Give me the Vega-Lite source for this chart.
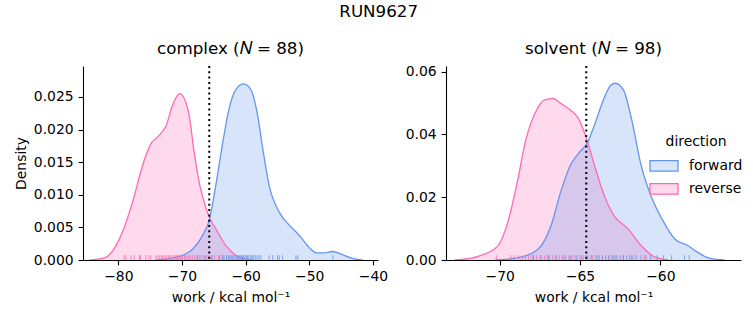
{
  "$schema": "https://vega.github.io/schema/vega-lite/v6.json",
  "background": "white",
  "padding": {"left": 14, "top": 4, "right": 13, "bottom": 5},
  "title": {"text": "RUN9627", "fontSize": 16.7, "font": "DejaVu Sans", "fontWeight": "normal", "anchor": "middle", "offset": 20, "color": "black"},
  "datasets": {
    "kde": [
      {"panel": "complex", "direction": "reverse", "x": -84.5, "density": 0},
      {"panel": "complex", "direction": "reverse", "x": -83.5, "density": 0.0001},
      {"panel": "complex", "direction": "reverse", "x": -82.0, "density": 0.0004},
      {"panel": "complex", "direction": "reverse", "x": -80.9, "density": 0.0014},
      {"panel": "complex", "direction": "reverse", "x": -79.4, "density": 0.0042},
      {"panel": "complex", "direction": "reverse", "x": -77.8, "density": 0.0088},
      {"panel": "complex", "direction": "reverse", "x": -76.2, "density": 0.0145},
      {"panel": "complex", "direction": "reverse", "x": -74.9, "density": 0.0178},
      {"panel": "complex", "direction": "reverse", "x": -73.6, "density": 0.0191},
      {"panel": "complex", "direction": "reverse", "x": -72.5, "density": 0.0206},
      {"panel": "complex", "direction": "reverse", "x": -71.5, "density": 0.0237},
      {"panel": "complex", "direction": "reverse", "x": -70.4, "density": 0.0255},
      {"panel": "complex", "direction": "reverse", "x": -69.4, "density": 0.0242},
      {"panel": "complex", "direction": "reverse", "x": -68.87, "density": 0.0221},
      {"panel": "complex", "direction": "reverse", "x": -68.08, "density": 0.0165},
      {"panel": "complex", "direction": "reverse", "x": -67.3, "density": 0.0119},
      {"panel": "complex", "direction": "reverse", "x": -66.5, "density": 0.0088},
      {"panel": "complex", "direction": "reverse", "x": -65.7, "density": 0.0065},
      {"panel": "complex", "direction": "reverse", "x": -64.7, "density": 0.0048},
      {"panel": "complex", "direction": "reverse", "x": -63.1, "density": 0.0022},
      {"panel": "complex", "direction": "reverse", "x": -61.5, "density": 0.0007},
      {"panel": "complex", "direction": "reverse", "x": -60.0, "density": 0.0001},
      {"panel": "complex", "direction": "reverse", "x": -59.0, "density": 0},
      {"panel": "complex", "direction": "forward", "x": -74.0, "density": 0},
      {"panel": "complex", "direction": "forward", "x": -71.0, "density": 0.0004},
      {"panel": "complex", "direction": "forward", "x": -68.3, "density": 0.0017},
      {"panel": "complex", "direction": "forward", "x": -66.8, "density": 0.0037},
      {"panel": "complex", "direction": "forward", "x": -65.7, "density": 0.0062},
      {"panel": "complex", "direction": "forward", "x": -64.7, "density": 0.0114},
      {"panel": "complex", "direction": "forward", "x": -63.6, "density": 0.018},
      {"panel": "complex", "direction": "forward", "x": -62.6, "density": 0.0232},
      {"panel": "complex", "direction": "forward", "x": -61.5, "density": 0.0262},
      {"panel": "complex", "direction": "forward", "x": -60.3, "density": 0.027},
      {"panel": "complex", "direction": "forward", "x": -59.1, "density": 0.026},
      {"panel": "complex", "direction": "forward", "x": -58.1, "density": 0.0221},
      {"panel": "complex", "direction": "forward", "x": -57.3, "density": 0.017},
      {"panel": "complex", "direction": "forward", "x": -56.3, "density": 0.0114},
      {"panel": "complex", "direction": "forward", "x": -54.7, "density": 0.0073},
      {"panel": "complex", "direction": "forward", "x": -53.1, "density": 0.0053},
      {"panel": "complex", "direction": "forward", "x": -51.5, "density": 0.0037},
      {"panel": "complex", "direction": "forward", "x": -50.0, "density": 0.0019},
      {"panel": "complex", "direction": "forward", "x": -48.9, "density": 0.0011},
      {"panel": "complex", "direction": "forward", "x": -47.6, "density": 0.0011},
      {"panel": "complex", "direction": "forward", "x": -46.3, "density": 0.0013},
      {"panel": "complex", "direction": "forward", "x": -45.0, "density": 0.0009},
      {"panel": "complex", "direction": "forward", "x": -43.4, "density": 0.0003},
      {"panel": "complex", "direction": "forward", "x": -41.6, "density": 0},
      {"panel": "solvent", "direction": "reverse", "x": -72.8, "density": 0},
      {"panel": "solvent", "direction": "reverse", "x": -72.0, "density": 0.0004},
      {"panel": "solvent", "direction": "reverse", "x": -71.2, "density": 0.0014},
      {"panel": "solvent", "direction": "reverse", "x": -70.1, "density": 0.0046},
      {"panel": "solvent", "direction": "reverse", "x": -69.5, "density": 0.012},
      {"panel": "solvent", "direction": "reverse", "x": -68.9, "density": 0.0249},
      {"panel": "solvent", "direction": "reverse", "x": -68.4, "density": 0.0377},
      {"panel": "solvent", "direction": "reverse", "x": -67.7, "density": 0.0478},
      {"panel": "solvent", "direction": "reverse", "x": -67.2, "density": 0.051},
      {"panel": "solvent", "direction": "reverse", "x": -66.7, "density": 0.0515},
      {"panel": "solvent", "direction": "reverse", "x": -66.2, "density": 0.0499},
      {"panel": "solvent", "direction": "reverse", "x": -65.6, "density": 0.0478},
      {"panel": "solvent", "direction": "reverse", "x": -65.1, "density": 0.0451},
      {"panel": "solvent", "direction": "reverse", "x": -64.6, "density": 0.0387},
      {"panel": "solvent", "direction": "reverse", "x": -64.1, "density": 0.0302},
      {"panel": "solvent", "direction": "reverse", "x": -63.5, "density": 0.0206},
      {"panel": "solvent", "direction": "reverse", "x": -62.9, "density": 0.0142},
      {"panel": "solvent", "direction": "reverse", "x": -62.0, "density": 0.0099},
      {"panel": "solvent", "direction": "reverse", "x": -61.2, "density": 0.0046},
      {"panel": "solvent", "direction": "reverse", "x": -60.4, "density": 0.0011},
      {"panel": "solvent", "direction": "reverse", "x": -59.5, "density": 0},
      {"panel": "solvent", "direction": "forward", "x": -70.3, "density": 0},
      {"panel": "solvent", "direction": "forward", "x": -68.7, "density": 0.0009},
      {"panel": "solvent", "direction": "forward", "x": -67.6, "density": 0.0035},
      {"panel": "solvent", "direction": "forward", "x": -66.8, "density": 0.011},
      {"panel": "solvent", "direction": "forward", "x": -66.2, "density": 0.0217},
      {"panel": "solvent", "direction": "forward", "x": -65.6, "density": 0.0302},
      {"panel": "solvent", "direction": "forward", "x": -65.0, "density": 0.0345},
      {"panel": "solvent", "direction": "forward", "x": -64.5, "density": 0.0377},
      {"panel": "solvent", "direction": "forward", "x": -64.1, "density": 0.043},
      {"panel": "solvent", "direction": "forward", "x": -63.5, "density": 0.0515},
      {"panel": "solvent", "direction": "forward", "x": -63.1, "density": 0.0556},
      {"panel": "solvent", "direction": "forward", "x": -62.8, "density": 0.0563},
      {"panel": "solvent", "direction": "forward", "x": -62.3, "density": 0.0542},
      {"panel": "solvent", "direction": "forward", "x": -61.8, "density": 0.0451},
      {"panel": "solvent", "direction": "forward", "x": -61.2, "density": 0.0302},
      {"panel": "solvent", "direction": "forward", "x": -60.6, "density": 0.0206},
      {"panel": "solvent", "direction": "forward", "x": -59.9, "density": 0.0131},
      {"panel": "solvent", "direction": "forward", "x": -59.1, "density": 0.0067},
      {"panel": "solvent", "direction": "forward", "x": -58.3, "density": 0.0046},
      {"panel": "solvent", "direction": "forward", "x": -57.7, "density": 0.0025},
      {"panel": "solvent", "direction": "forward", "x": -56.9, "density": 0.0005},
      {"panel": "solvent", "direction": "forward", "x": -56.0, "density": 0}
    ],
    "rug": [
      {"panel": "complex", "direction": "reverse", "x": -79.1}, {"panel": "complex", "direction": "reverse", "x": -78.8},
      {"panel": "complex", "direction": "reverse", "x": -78.0}, {"panel": "complex", "direction": "reverse", "x": -77.5},
      {"panel": "complex", "direction": "reverse", "x": -76.7}, {"panel": "complex", "direction": "reverse", "x": -76.5},
      {"panel": "complex", "direction": "reverse", "x": -75.7}, {"panel": "complex", "direction": "reverse", "x": -75.2},
      {"panel": "complex", "direction": "reverse", "x": -74.9}, {"panel": "complex", "direction": "reverse", "x": -74.1},
      {"panel": "complex", "direction": "reverse", "x": -73.8}, {"panel": "complex", "direction": "reverse", "x": -73.5},
      {"panel": "complex", "direction": "reverse", "x": -73.2}, {"panel": "complex", "direction": "reverse", "x": -73.0},
      {"panel": "complex", "direction": "reverse", "x": -72.7}, {"panel": "complex", "direction": "reverse", "x": -72.4},
      {"panel": "complex", "direction": "reverse", "x": -72.1}, {"panel": "complex", "direction": "reverse", "x": -71.9},
      {"panel": "complex", "direction": "reverse", "x": -71.6}, {"panel": "complex", "direction": "reverse", "x": -71.3},
      {"panel": "complex", "direction": "reverse", "x": -71.1}, {"panel": "complex", "direction": "reverse", "x": -70.9},
      {"panel": "complex", "direction": "reverse", "x": -70.7}, {"panel": "complex", "direction": "reverse", "x": -70.5},
      {"panel": "complex", "direction": "reverse", "x": -70.3}, {"panel": "complex", "direction": "reverse", "x": -70.1},
      {"panel": "complex", "direction": "reverse", "x": -69.9}, {"panel": "complex", "direction": "reverse", "x": -69.6},
      {"panel": "complex", "direction": "reverse", "x": -69.4}, {"panel": "complex", "direction": "reverse", "x": -69.1},
      {"panel": "complex", "direction": "reverse", "x": -68.9}, {"panel": "complex", "direction": "reverse", "x": -68.6},
      {"panel": "complex", "direction": "reverse", "x": -68.3}, {"panel": "complex", "direction": "reverse", "x": -68.0},
      {"panel": "complex", "direction": "reverse", "x": -67.6}, {"panel": "complex", "direction": "reverse", "x": -67.3},
      {"panel": "complex", "direction": "reverse", "x": -67.0}, {"panel": "complex", "direction": "reverse", "x": -66.6},
      {"panel": "complex", "direction": "reverse", "x": -66.2}, {"panel": "complex", "direction": "reverse", "x": -65.9},
      {"panel": "complex", "direction": "reverse", "x": -65.4}, {"panel": "complex", "direction": "reverse", "x": -64.9},
      {"panel": "complex", "direction": "reverse", "x": -64.3}, {"panel": "complex", "direction": "reverse", "x": -63.6},
      {"panel": "complex", "direction": "forward", "x": -67.6}, {"panel": "complex", "direction": "forward", "x": -66.4},
      {"panel": "complex", "direction": "forward", "x": -65.3}, {"panel": "complex", "direction": "forward", "x": -64.1},
      {"panel": "complex", "direction": "forward", "x": -63.7}, {"panel": "complex", "direction": "forward", "x": -63.4},
      {"panel": "complex", "direction": "forward", "x": -63.0}, {"panel": "complex", "direction": "forward", "x": -62.7},
      {"panel": "complex", "direction": "forward", "x": -62.5}, {"panel": "complex", "direction": "forward", "x": -62.2},
      {"panel": "complex", "direction": "forward", "x": -62.0}, {"panel": "complex", "direction": "forward", "x": -61.8},
      {"panel": "complex", "direction": "forward", "x": -61.5}, {"panel": "complex", "direction": "forward", "x": -61.3},
      {"panel": "complex", "direction": "forward", "x": -61.1}, {"panel": "complex", "direction": "forward", "x": -60.9},
      {"panel": "complex", "direction": "forward", "x": -60.7}, {"panel": "complex", "direction": "forward", "x": -60.5},
      {"panel": "complex", "direction": "forward", "x": -60.3}, {"panel": "complex", "direction": "forward", "x": -60.1},
      {"panel": "complex", "direction": "forward", "x": -59.9}, {"panel": "complex", "direction": "forward", "x": -59.7},
      {"panel": "complex", "direction": "forward", "x": -59.5}, {"panel": "complex", "direction": "forward", "x": -59.2},
      {"panel": "complex", "direction": "forward", "x": -59.0}, {"panel": "complex", "direction": "forward", "x": -58.8},
      {"panel": "complex", "direction": "forward", "x": -58.5}, {"panel": "complex", "direction": "forward", "x": -58.2},
      {"panel": "complex", "direction": "forward", "x": -57.9}, {"panel": "complex", "direction": "forward", "x": -57.6},
      {"panel": "complex", "direction": "forward", "x": -56.3}, {"panel": "complex", "direction": "forward", "x": -55.75},
      {"panel": "complex", "direction": "forward", "x": -55.0}, {"panel": "complex", "direction": "forward", "x": -54.7},
      {"panel": "complex", "direction": "forward", "x": -54.2}, {"panel": "complex", "direction": "forward", "x": -52.1},
      {"panel": "complex", "direction": "forward", "x": -51.8}, {"panel": "complex", "direction": "forward", "x": -46.3},
      {"panel": "solvent", "direction": "reverse", "x": -70.2}, {"panel": "solvent", "direction": "reverse", "x": -69.3},
      {"panel": "solvent", "direction": "reverse", "x": -69.1}, {"panel": "solvent", "direction": "reverse", "x": -68.8},
      {"panel": "solvent", "direction": "reverse", "x": -68.6}, {"panel": "solvent", "direction": "reverse", "x": -68.4},
      {"panel": "solvent", "direction": "reverse", "x": -68.2}, {"panel": "solvent", "direction": "reverse", "x": -68.0},
      {"panel": "solvent", "direction": "reverse", "x": -67.9}, {"panel": "solvent", "direction": "reverse", "x": -67.7},
      {"panel": "solvent", "direction": "reverse", "x": -67.5}, {"panel": "solvent", "direction": "reverse", "x": -67.4},
      {"panel": "solvent", "direction": "reverse", "x": -67.2}, {"panel": "solvent", "direction": "reverse", "x": -67.0},
      {"panel": "solvent", "direction": "reverse", "x": -66.9}, {"panel": "solvent", "direction": "reverse", "x": -66.7},
      {"panel": "solvent", "direction": "reverse", "x": -66.5}, {"panel": "solvent", "direction": "reverse", "x": -66.3},
      {"panel": "solvent", "direction": "reverse", "x": -66.1}, {"panel": "solvent", "direction": "reverse", "x": -65.9},
      {"panel": "solvent", "direction": "reverse", "x": -65.7}, {"panel": "solvent", "direction": "reverse", "x": -65.5},
      {"panel": "solvent", "direction": "reverse", "x": -65.3}, {"panel": "solvent", "direction": "reverse", "x": -65.0},
      {"panel": "solvent", "direction": "reverse", "x": -64.8}, {"panel": "solvent", "direction": "reverse", "x": -64.5},
      {"panel": "solvent", "direction": "reverse", "x": -64.2}, {"panel": "solvent", "direction": "reverse", "x": -63.9},
      {"panel": "solvent", "direction": "reverse", "x": -63.6}, {"panel": "solvent", "direction": "reverse", "x": -63.2},
      {"panel": "solvent", "direction": "reverse", "x": -62.8}, {"panel": "solvent", "direction": "reverse", "x": -62.3},
      {"panel": "solvent", "direction": "reverse", "x": -61.8}, {"panel": "solvent", "direction": "reverse", "x": -61.0},
      {"panel": "solvent", "direction": "forward", "x": -67.9}, {"panel": "solvent", "direction": "forward", "x": -67.0},
      {"panel": "solvent", "direction": "forward", "x": -66.5}, {"panel": "solvent", "direction": "forward", "x": -66.0},
      {"panel": "solvent", "direction": "forward", "x": -65.6}, {"panel": "solvent", "direction": "forward", "x": -65.2},
      {"panel": "solvent", "direction": "forward", "x": -64.9}, {"panel": "solvent", "direction": "forward", "x": -64.6},
      {"panel": "solvent", "direction": "forward", "x": -64.3}, {"panel": "solvent", "direction": "forward", "x": -64.0},
      {"panel": "solvent", "direction": "forward", "x": -63.8}, {"panel": "solvent", "direction": "forward", "x": -63.6},
      {"panel": "solvent", "direction": "forward", "x": -63.4}, {"panel": "solvent", "direction": "forward", "x": -63.2},
      {"panel": "solvent", "direction": "forward", "x": -63.0}, {"panel": "solvent", "direction": "forward", "x": -62.9},
      {"panel": "solvent", "direction": "forward", "x": -62.7}, {"panel": "solvent", "direction": "forward", "x": -62.5},
      {"panel": "solvent", "direction": "forward", "x": -62.3}, {"panel": "solvent", "direction": "forward", "x": -62.1},
      {"panel": "solvent", "direction": "forward", "x": -61.9}, {"panel": "solvent", "direction": "forward", "x": -61.7},
      {"panel": "solvent", "direction": "forward", "x": -61.5}, {"panel": "solvent", "direction": "forward", "x": -61.2},
      {"panel": "solvent", "direction": "forward", "x": -60.9}, {"panel": "solvent", "direction": "forward", "x": -60.6},
      {"panel": "solvent", "direction": "forward", "x": -60.2}, {"panel": "solvent", "direction": "forward", "x": -59.8},
      {"panel": "solvent", "direction": "forward", "x": -59.3}, {"panel": "solvent", "direction": "forward", "x": -58.5},
      {"panel": "solvent", "direction": "forward", "x": -58.2}
    ],
    "ref": [
      {"panel": "complex", "x": -65.72},
      {"panel": "solvent", "x": -64.61}
    ]
  },
  "hconcat": [
    {
      "width": 295,
      "height": 194,
      "title": {"text": "complex (𝑁 = 88)", "fontSize": 16.7, "fontWeight": "normal", "color": "black", "offset": 7},
      "layer": [
        {
          "data": {"name": "kde"},
          "transform": [{"filter": "datum.panel === 'complex'"}],
          "mark": {"type": "area", "fillOpacity": 0.25, "clip": true, "interpolate": "monotone"},
          "encoding": {
            "x": {"field": "x", "type": "quantitative", "scale": {"domain": [-85.56, -39.2], "nice": false, "zero": false},
                  "axis": {"values": [-80, -70, -60, -50, -40], "title": "work / kcal mol⁻¹"}},
            "y": {"field": "density", "type": "quantitative", "stack": null, "scale": {"domain": [0, 0.02975], "nice": false},
                  "axis": {"values": [0, 0.005, 0.01, 0.015, 0.02, 0.025], "tickCount": 6, "format": ".3f", "title": "Density", "labelOverlap": false, "labelSeparation": 0}},
            "color": {"field": "direction", "type": "nominal", "scale": {"domain": ["forward", "reverse"], "range": ["#6495ED", "#FF69B4"]}, "legend": null}
          }
        },
        {
          "data": {"name": "kde"},
          "transform": [{"filter": "datum.panel === 'complex'"}],
          "mark": {"type": "line", "strokeWidth": 1.3, "clip": true, "interpolate": "monotone"},
          "encoding": {
            "x": {"field": "x", "type": "quantitative"},
            "y": {"field": "density", "type": "quantitative"},
            "color": {"field": "direction", "type": "nominal", "legend": null}
          }
        },
        {
          "data": {"name": "rug"},
          "transform": [{"filter": "datum.panel === 'complex'"}],
          "mark": {"type": "rule", "strokeWidth": 1, "opacity": 0.8},
          "encoding": {
            "x": {"field": "x", "type": "quantitative"},
            "y": {"datum": 0},
            "y2": {"datum": 0.000744},
            "color": {"field": "direction", "type": "nominal", "legend": null}
          }
        },
        {
          "data": {"name": "ref"},
          "transform": [{"filter": "datum.panel === 'complex'"}],
          "mark": {"type": "rule", "color": "black", "strokeWidth": 2, "strokeDash": [2, 3.3]},
          "encoding": {"x": {"field": "x", "type": "quantitative"}}
        }
      ]
    },
    {
      "width": 295,
      "height": 194,
      "title": {"text": "solvent (𝑁 = 98)", "fontSize": 16.7, "fontWeight": "normal", "color": "black", "offset": 7},
      "layer": [
        {
          "data": {"name": "kde"},
          "transform": [{"filter": "datum.panel === 'solvent'"}],
          "mark": {"type": "area", "fillOpacity": 0.25, "clip": true, "interpolate": "monotone"},
          "encoding": {
            "x": {"field": "x", "type": "quantitative", "scale": {"domain": [-73.34, -54.98], "nice": false, "zero": false},
                  "axis": {"values": [-70, -65, -60], "title": "work / kcal mol⁻¹"}},
            "y": {"field": "density", "type": "quantitative", "stack": null, "scale": {"domain": [0, 0.0618], "nice": false},
                  "axis": {"values": [0, 0.02, 0.04, 0.06], "format": ".2f", "title": null}},
            "color": {"field": "direction", "type": "nominal",
                      "legend": {"orient": "none", "legendX": 203, "legendY": 69, "title": "direction",
                                 "titleAnchor": "middle", "titleAlign": "center", "titlePadding": 2,
                                 "symbolType": "M-1,-0.38H1V0.38H-1Z", "symbolSize": 784,
                                 "rowPadding": -7.5, "labelOffset": 10, "padding": 0,
                                 "encode": {"symbols": {"update": {
                                   "fill": {"scale": "color", "field": "value"},
                                   "fillOpacity": {"value": 0.25},
                                   "stroke": {"scale": "color", "field": "value"},
                                   "strokeWidth": {"value": 1.3},
                                   "opacity": {"value": 1}}}}}}
          }
        },
        {
          "data": {"name": "kde"},
          "transform": [{"filter": "datum.panel === 'solvent'"}],
          "mark": {"type": "line", "strokeWidth": 1.3, "clip": true, "interpolate": "monotone"},
          "encoding": {
            "x": {"field": "x", "type": "quantitative"},
            "y": {"field": "density", "type": "quantitative"},
            "color": {"field": "direction", "type": "nominal"}
          }
        },
        {
          "data": {"name": "rug"},
          "transform": [{"filter": "datum.panel === 'solvent'"}],
          "mark": {"type": "rule", "strokeWidth": 1, "opacity": 0.8},
          "encoding": {
            "x": {"field": "x", "type": "quantitative"},
            "y": {"datum": 0},
            "y2": {"datum": 0.001545},
            "color": {"field": "direction", "type": "nominal"}
          }
        },
        {
          "data": {"name": "ref"},
          "transform": [{"filter": "datum.panel === 'solvent'"}],
          "mark": {"type": "rule", "color": "black", "strokeWidth": 2, "strokeDash": [2, 3.3]},
          "encoding": {"x": {"field": "x", "type": "quantitative"}}
        }
      ]
    }
  ],
  "spacing": 17,
  "resolve": {"scale": {"color": "shared"}, "legend": {"color": "independent"}},
  "config": {
    "font": "DejaVu Sans",
    "view": {"stroke": null},
    "axis": {"domainColor": "black", "domainWidth": 1.1, "tickColor": "black", "tickWidth": 1.1, "tickSize": 4.9,
             "labelFontSize": 13.9, "labelColor": "black", "titleFontSize": 13.9, "titleFontWeight": "normal",
             "titleColor": "black", "grid": false, "labelPadding": 5, "labelFlush": false, "labelOverlap": false,
             "titlePadding": 5},
    "axisX": {"titlePadding": 7},
    "legend": {"titleFontSize": 13.9, "titleFontWeight": "normal", "titleColor": "black", "labelFontSize": 13.9, "labelColor": "black"}
  }
}
